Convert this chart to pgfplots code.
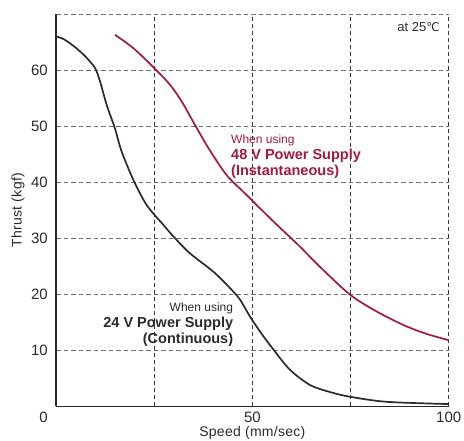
\documentclass[border=0pt]{standalone}
\usepackage{pgfplots}
\pgfplotsset{compat=1.18}
\usepackage{fontspec}
\setmainfont{Liberation Sans}
\newfontfamily\symfont{DejaVu Sans}

\definecolor{txt}{HTML}{2B2B2B}
\definecolor{wine}{HTML}{A6193C}
\definecolor{gridgray}{HTML}{6E6E6E}
\definecolor{gridvert}{HTML}{3A3A3A}

\begin{document}
\begin{tikzpicture}
\path[use as bounding box] (-56bp,-34.7bp) rectangle (408bp,406.3bp);
\begin{axis}[
  scale only axis,
  width=392.7bp, height=392.3bp,
  xmin=0, xmax=100, ymin=0, ymax=70,
  axis x line*=bottom, axis y line*=left,
  axis line style={txt, line width=1.5bp, -},
  xtick={25,50,75,100}, xticklabels={,50,,100},
  ytick={10,20,30,40,50,60,70}, yticklabels={10,20,30,40,50,60,},
  extra y ticks={0}, extra y tick labels={0},
  extra y tick style={grid=none, yticklabel style={yshift=-11bp}},
  major tick length=0pt,
  /pgf/number format/assume math mode=true,
  tick label style={font=\fontsize{15bp}{18bp}\selectfont, text=txt, inner sep=0pt},
  yticklabel style={anchor=east, xshift=-8bp},
  xticklabel style={anchor=north, yshift=-6bp},
  grid=major,
  x grid style={gridvert, line width=0.9bp, dash pattern=on 4bp off 3bp},
  y grid style={gridgray, line width=1bp, dash pattern=on 4.5bp off 3bp},
  xlabel={Speed (mm/sec)},
  ylabel={Thrust (kgf)},
  label style={font=\fontsize{14bp}{17bp}\selectfont\addfontfeature{LetterSpace=2}, text=txt, inner sep=0pt},
  xlabel style={at={(axis description cs:0.5,-0.069)}, anchor=center},
  ylabel style={at={(axis description cs:-0.0968,0.5)}, anchor=center, rotate=0},
  clip=false,
]
% 24 V supply, continuous
\addplot[txt, line width=1.7bp, smooth, tension=0.5] coordinates {
  (0,66.0) (2.0,65.5) (5.0,64.0) (7.5,62.4) (9.9,60.4) (11.2,58.0) (12.9,53.8)
  (15.0,49.6) (16.7,45.5) (19.7,40.4) (23.1,35.9) (27.3,32.4)
  (30.3,30.0) (34.1,27.3) (40.1,24.0) (44.3,21.1) (46.9,19.0)
  (49.4,16.0) (52.5,12.8) (55.4,10.1) (59.6,6.5) (64.7,3.8) (70,2.5)
  (74.9,1.7) (84.2,0.8) (100,0.4)
};
% 48 V supply, instantaneous
\addplot[wine, line width=1.7bp, smooth, tension=0.5] coordinates {
  (15.0,66.3) (19.7,63.9) (24.8,60.5) (29.0,57.4) (32.0,54.4)
  (35.4,50.2) (38.8,46.1) (43.4,41.3) (48.1,38.0) (54.9,33.3)
  (62.1,28.5) (67.2,24.9) (74.9,19.9) (81.7,16.9) (88.5,14.5)
  (94,13.0) (100,11.8)
};
% annotations
\node[anchor=base east, text=txt, inner sep=0pt, font=\fontsize{13bp}{15bp}\selectfont]
  at (axis cs:97.8,66.8) {at 25{\symfont\fontsize{12bp}{14bp}\selectfont ℃}};
\node[anchor=base west, text=wine, inner sep=0pt, font=\fontsize{12bp}{14bp}\selectfont]
  at (axis cs:44.56,46.84) {When using};
\node[anchor=base west, text=wine, inner sep=0pt, font=\fontsize{14.5bp}{17bp}\selectfont\bfseries]
  at (axis cs:44.56,43.98) {48 V Power Supply};
\node[anchor=base west, text=wine, inner sep=0pt, font=\fontsize{14.5bp}{17bp}\selectfont\bfseries]
  at (axis cs:44.56,41.18) {(Instantaneous)};
\node[anchor=base east, text=txt, inner sep=0pt, font=\fontsize{12bp}{14bp}\selectfont]
  at (axis cs:45.15,16.9) {When using};
\node[anchor=base east, text=txt, inner sep=0pt, font=\fontsize{14.5bp}{17bp}\selectfont\bfseries]
  at (axis cs:45.15,14.04) {24 V Power Supply};
\node[anchor=base east, text=txt, inner sep=0pt, font=\fontsize{14.5bp}{17bp}\selectfont\bfseries]
  at (axis cs:45.15,11.25) {(Continuous)};
\end{axis}
\end{tikzpicture}
\end{document}
